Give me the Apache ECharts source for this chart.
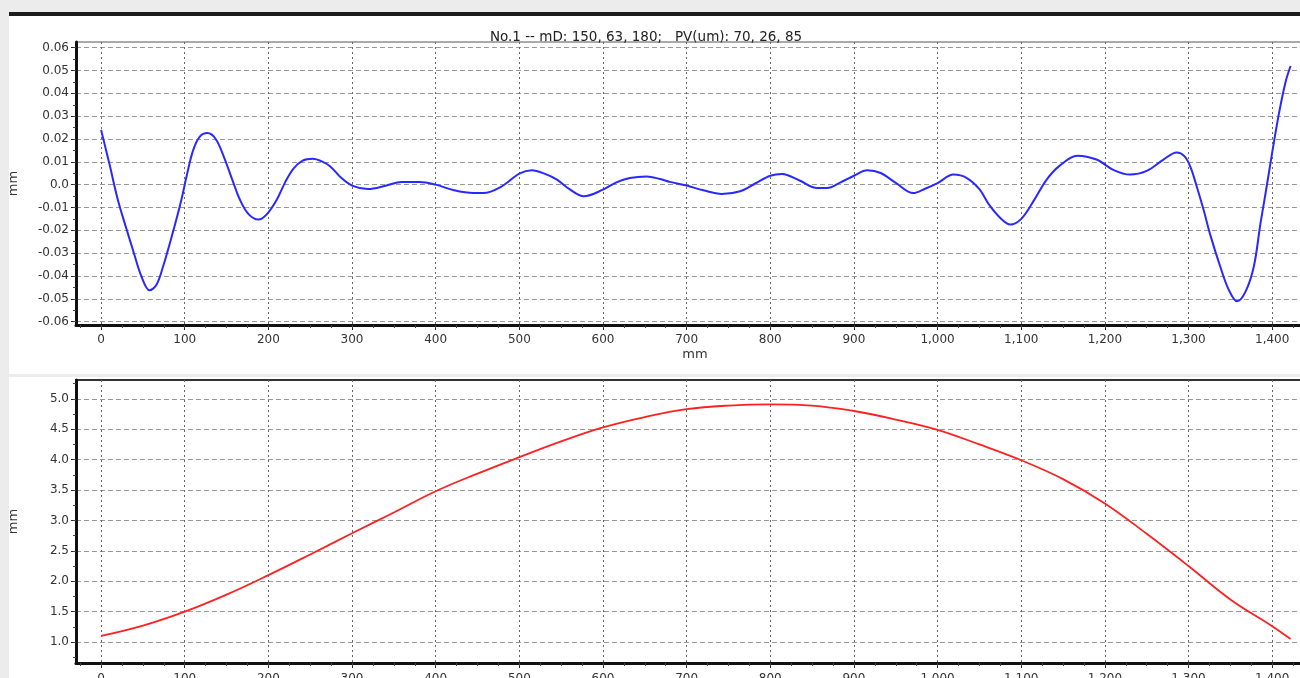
<!DOCTYPE html>
<html><head><meta charset="utf-8">
<script src="https://cdn.jsdelivr.net/npm/echarts@6/dist/echarts.min.js"></script>
<style>html,body{margin:0;padding:0;background:#ececec}#c{width:1300px;height:678px}</style>
</head><body><div id="c"></div>
<script>
const titleText = 'No.1 -- mD: 150, 63, 180;   PV(um): 70, 26, 85';
const axisUnit = 'mm';

// Top chart: deviation (mm) vs position (mm)
const posTop = [0,10,20,30,38,48,58,66,74,85,96,103,110,118,127,137,147,157,166,176,188,198,210,220,230,241,253,265,274,287,300,319,340,359,381,400,422,445,457,478,500,515,530,545,560,577,600,616,632,652,668,680,700,720,742,764,782,800,814,835,856,868,884,900,916,932,950,971,985,1000,1019,1035,1050,1062,1075,1087,1100,1115,1130,1145,1167,1190,1210,1230,1250,1270,1286,1295,1302,1310,1318,1326,1338,1348,1358,1368,1378,1386,1392,1400,1408,1416,1422];
const devTop = [0.024,0.009,-0.0066,-0.019,-0.0285,-0.040,-0.0463,-0.044,-0.036,-0.022,-0.0066,0.005,0.0150,0.021,0.0226,0.020,0.012,0.002,-0.0066,-0.0128,-0.0153,-0.013,-0.0066,0.001,0.007,0.0105,0.0113,0.0100,0.008,0.003,-0.0004,-0.0019,-0.0005,0.0012,0.0012,0.0,-0.0025,-0.0037,-0.0037,-0.001,0.0048,0.0063,0.0048,0.0022,-0.002,-0.0051,-0.0022,0.001,0.0029,0.0036,0.0025,0.0012,-0.0004,-0.0025,-0.0041,-0.0029,0.0005,0.0039,0.0047,0.0018,-0.0015,-0.0015,0.001,0.0039,0.0063,0.0051,0.0008,-0.0037,-0.0018,0.0007,0.0044,0.0029,-0.002,-0.009,-0.0146,-0.0175,-0.015,-0.007,0.002,0.008,0.0127,0.011,0.0065,0.0044,0.006,0.011,0.0141,0.0125,0.008,-0.001,-0.011,-0.022,-0.036,-0.046,-0.0511,-0.047,-0.036,-0.017,-0.004,0.014,0.031,0.045,0.052];

// Bottom chart: height (mm) vs position (mm)
const posBottom = [0,50,100,150,200,250,300,350,400,450,500,550,600,650,700,750,800,850,900,950,1000,1050,1100,1150,1200,1250,1300,1350,1400,1422];
const heightBottom = [1.10,1.27,1.50,1.78,2.10,2.44,2.79,3.13,3.48,3.77,4.04,4.30,4.53,4.70,4.83,4.89,4.91,4.89,4.80,4.66,4.49,4.25,3.99,3.68,3.28,2.78,2.25,1.70,1.26,1.05];

// Tick labels
const xTicks = [0,100,200,300,400,500,600,700,800,900,1000,1100,1200,1300,1400];
const yTicksTop = [-0.06,-0.05,-0.04,-0.03,-0.02,-0.01,0,0.01,0.02,0.03,0.04,0.05,0.06];
const yTicksBottom = [1.0,1.5,2.0,2.5,3.0,3.5,4.0,4.5,5.0];

const xMinor = []; for (let v = -25; v <= 1450; v += 25) xMinor.push(v);
const yMinorTop = []; for (let i = -12; i <= 12; i++) yMinorTop.push(i * 0.005);
const yMinorBottom = []; for (let i = 3; i <= 21; i++) yMinorBottom.push(i * 0.25);

const FONT = 'DejaVu Sans';
const labelStyle = { color: '#333', fontSize: 12, fontFamily: FONT };

function xMain(grid, withName, margin) {
  return {
    type: 'value', gridIndex: grid, min: -30, max: 1450, position: 'bottom',
    name: withName ? axisUnit : '', nameLocation: 'middle', nameGap: 23,
    nameTextStyle: { color: '#333', fontSize: 13, fontFamily: FONT },
    axisLine: { show: true, onZero: false, lineStyle: { color: '#111', width: 3 } },
    axisTick: { show: true, customValues: xTicks, length: 5, lineStyle: { color: '#222' } },
    axisLabel: { show: true, customValues: xTicks, margin: margin, ...labelStyle,
      formatter: v => Number(v).toLocaleString('en-US') },
    splitLine: { show: true, lineStyle: { color: '#666', type: [2, 3], width: 1 } }
  };
}
function xMinorAxis(grid) {
  return {
    type: 'value', gridIndex: grid, min: -30, max: 1450, position: 'bottom',
    axisLine: { show: false, onZero: false }, axisLabel: { show: false }, splitLine: { show: false },
    axisTick: { show: true, customValues: xMinor, length: 3, lineStyle: { color: '#444' } }
  };
}
function yMain(grid, min, max, ticks, fmt) {
  return {
    type: 'value', gridIndex: grid, min: min, max: max, position: 'left',
    name: axisUnit, nameLocation: 'middle', nameGap: 56,
    nameTextStyle: { color: '#333', fontSize: 13, fontFamily: FONT },
    axisLine: { show: true, onZero: false, lineStyle: { color: '#111', width: 3 } },
    axisTick: { show: true, customValues: ticks, length: 5, lineStyle: { color: '#222' } },
    axisLabel: { show: true, customValues: ticks, margin: 7, ...labelStyle, formatter: fmt },
    splitLine: { show: true, lineStyle: { color: '#9a9a9a', type: [5, 3], width: 1 } }
  };
}
function yMinorAxis(grid, min, max, ticks) {
  return {
    type: 'value', gridIndex: grid, min: min, max: max, position: 'left',
    axisLine: { show: false, onZero: false }, axisLabel: { show: false }, splitLine: { show: false },
    axisTick: { show: true, customValues: ticks, length: 3, lineStyle: { color: '#444' } }
  };
}

const chart = echarts.init(document.getElementById('c'), null, { renderer: 'canvas' });
chart.setOption({
  animation: false,
  backgroundColor: '#ececec',
  title: { text: titleText, left: 641, top: 25, textAlign: 'center',
    textStyle: { fontSize: 13.5, fontWeight: 'normal', color: '#222', fontFamily: FONT } },
  graphic: [
    { type: 'rect', z: -100, shape: { x: 9, y: 12, width: 1291, height: 4 }, style: { fill: '#1c1c1c' }, silent: true },
    { type: 'rect', z: -100, shape: { x: 9, y: 16, width: 1291, height: 358 }, style: { fill: '#ffffff' }, silent: true },
    { type: 'rect', z: -100, shape: { x: 9, y: 377, width: 1291, height: 301 }, style: { fill: '#ffffff' }, silent: true }
  ],
  grid: [
    { left: 76, top: 42, width: 1238, height: 283, outerBoundsMode: 'none', containLabel: false,
      show: true, backgroundColor: '#fff', borderColor: '#555', borderWidth: 1 },
    { left: 76, top: 380, width: 1238, height: 283, outerBoundsMode: 'none', containLabel: false,
      show: true, backgroundColor: '#fff', borderColor: '#333', borderWidth: 2 }
  ],
  xAxis: [ xMain(0, true, 9), xMinorAxis(0), xMain(1, false, 10), xMinorAxis(1) ],
  yAxis: [
    yMain(0, -0.0615, 0.0625, yTicksTop, v => (Math.abs(v) < 1e-9 ? '0.0' : Number(v).toFixed(2))),
    yMinorAxis(0, -0.0615, 0.0625, yMinorTop),
    yMain(1, 0.655, 5.31, yTicksBottom, v => Number(v).toFixed(1)),
    yMinorAxis(1, 0.655, 5.31, yMinorBottom)
  ],
  series: [
    { type: 'line', xAxisIndex: 0, yAxisIndex: 0, smooth: 0.35, showSymbol: false,
      data: posTop.map((x, i) => [x, devTop[i]]),
      lineStyle: { color: '#2828ff', width: 2 } },
    { type: 'line', xAxisIndex: 2, yAxisIndex: 2, smooth: 0.4, showSymbol: false,
      data: posBottom.map((x, i) => [x, heightBottom[i]]),
      lineStyle: { color: '#ff2020', width: 1.8 } }
  ]
});
</script>
</body></html>
